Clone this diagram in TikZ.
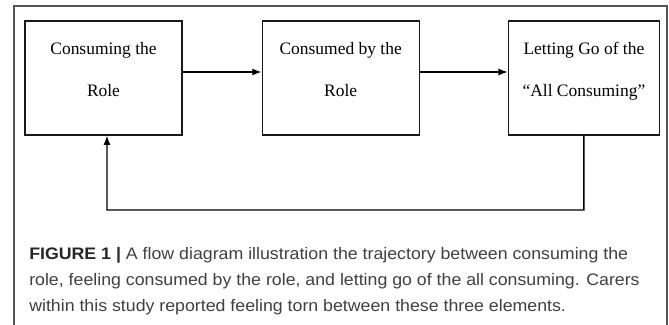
\documentclass[tikz,border=0pt]{standalone}
\usepackage{fontspec}
\usepackage{tikz}
\usetikzlibrary{positioning,arrows.meta}
\setmainfont{Liberation Serif}
\newfontfamily\capfont[FakeStretch=1.065]{Liberation Sans}
\definecolor{framegray}{HTML}{555555}
\definecolor{capgray}{HTML}{404040}

\begin{document}
\begin{tikzpicture}[x=0.75pt, y=-0.75pt, >={Latex[length=7pt,width=5.25pt]},
    stage/.style={rectangle, draw=black!90, line width=0.9pt, minimum width=117.75pt, minimum height=85.5pt},
    stagetext/.style={align=center, inner sep=0pt, font=\fontsize{13.1}{31.5}\selectfont}]
    \useasboundingbox (0,0) rectangle (669,325);
    \draw[framegray, line width=1pt] (14,325) -- (14,6) -- (667,6) -- (667,325);

    \node[stage] (c1) at (103.5,78) {};
    \node[stage, right=59.25pt of c1] (c2) {};
    \node[stage, right=66pt of c2, minimum width=113.25pt] (c3) {};

    \node[stagetext, below=16pt of c1.north] (t1) {Consuming the\\Role};
    \node[stagetext, below=16pt of c2.north] (t2) {Consumed by the\\Role};
    \node[stagetext, below=16pt of c3.north] (t3) {Letting Go of the\\“All Consuming”};

    \draw[->, line width=1pt] ([yshift=4.5pt]c1.east) -- ([yshift=4.5pt]c2.west);
    \draw[->, line width=1pt] ([yshift=4.5pt]c2.east) -- ([yshift=4.5pt]c3.west);
    \coordinate (back) at (107,210);
    \draw[->, line width=1pt] (c3.south) |- (back) -- ([xshift=2.6pt]c1.south);

    \node[anchor=north west, inner sep=0pt, align=left, text=capgray, font=\capfont\fontsize{12.5}{19.5}\selectfont] (cap) at (29,247)
        {{\bfseries\color{black!85}FIGURE 1 |} A flow diagram illustration the trajectory between consuming the\\
         role, feeling consumed by the role, and letting go of the all consuming. Carers\\
         within this study reported feeling torn between these three elements.};
\end{tikzpicture}
\end{document}
